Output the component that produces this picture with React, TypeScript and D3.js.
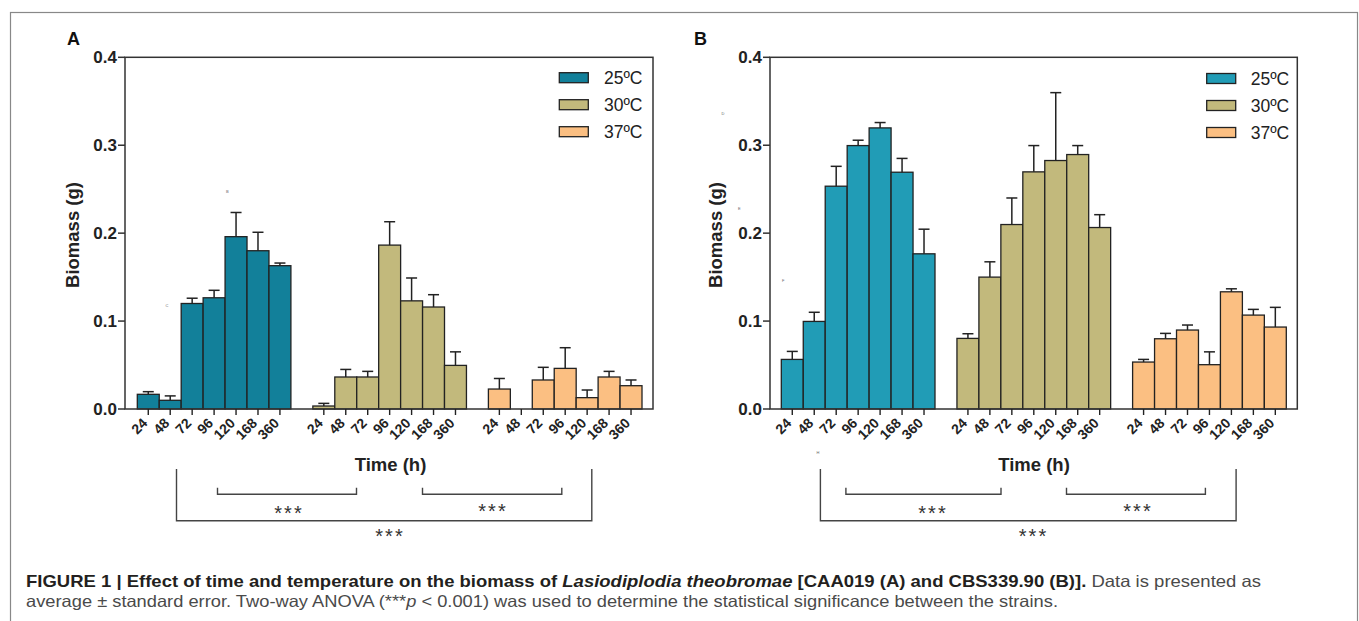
import React from "react";
import * as d3 from "d3";

// ---------- data ----------
const timeLabels = ["24", "48", "72", "96", "120", "168", "360"];
const tempLabels = ["25ºC", "30ºC", "37ºC"];
const yTicks = [0, 0.1, 0.2, 0.3, 0.4];

// Panel A (CAA019): means and standard errors
const meanA25 = [0.0167, 0.0099, 0.12, 0.1265, 0.196, 0.18, 0.163];
const seA25 = [0.003, 0.005, 0.006, 0.0085, 0.0275, 0.021, 0.003];
const meanA30 = [0.0034, 0.0364, 0.0364, 0.1864, 0.123, 0.116, 0.0496];
const seA30 = [0.003, 0.0086, 0.0064, 0.0266, 0.026, 0.014, 0.0154];
const meanA37 = [0.0227, 0, 0.033, 0.0462, 0.0129, 0.0364, 0.0265];
const seA37 = [0.012, 0, 0.0144, 0.0235, 0.0087, 0.0064, 0.0065];

// Panel B (CBS339.90)
const meanB25 = [0.0564, 0.0996, 0.2534, 0.2996, 0.3197, 0.2693, 0.1765];
const seB25 = [0.0091, 0.0104, 0.0226, 0.0061, 0.0061, 0.0157, 0.028];
const meanB30 = [0.0803, 0.15, 0.2098, 0.2697, 0.2826, 0.2894, 0.2064];
const seB30 = [0.0053, 0.0174, 0.0302, 0.0299, 0.0772, 0.0102, 0.0146];
const meanB37 = [0.0534, 0.0799, 0.0898, 0.0504, 0.1333, 0.1068, 0.0932];
const seB37 = [0.003, 0.0061, 0.0057, 0.0146, 0.0034, 0.0065, 0.0224];

const colorsA = ["#12809a", "#c2b97c", "#fbbf82"];
const colorsB = ["#219cb6", "#c2b97c", "#fbbf82"];

const FONT = "'Liberation Sans', Arial, Helvetica, sans-serif";
const INK = "#222";

type PanelCfg = {
  letter: string;
  letterX: number;
  left: number;
  right: number;
  bandL: number;
  bandR: number;
  means: number[][];
  ses: number[][];
  colors: string[];
  legSwX: number;
  legTxX: number;
  legY0: number;
  yLabelX: number;
  bigBracket: [number, number];
  small1: [number, number];
  small2: [number, number];
  starsSmall1: number;
  starsSmall2: number;
  starsBig: number;
  timeX: number;
  marks: { t: string; x: number; y: number }[];
};

const TOP = 57.3;
const BOTTOM = 409;

function Panel({ c }: { c: PanelCfg }) {
  const y = d3.scaleLinear().domain([0, 0.4]).range([BOTTOM, TOP]);
  const x = d3
    .scaleBand<number>()
    .domain(d3.range(23))
    .range([c.bandL, c.bandR])
    .padding(0);
  const bw = x.bandwidth();
  const fmt = d3.format(".1f");

  const bars: React.ReactNode[] = [];
  const errs: React.ReactNode[] = [];
  const ticks: React.ReactNode[] = [];
  c.means.forEach((series, g) => {
    series.forEach((m, t) => {
      const idx = g * 8 + t;
      const x0 = x(idx)!;
      const cx = x0 + bw / 2;
      const se = c.ses[g][t];
      if (m > 0) {
        bars.push(
          <rect
            key={`b${g}-${t}`}
            x={x0}
            y={y(m)}
            width={bw}
            height={y(0) - y(m)}
            fill={c.colors[g]}
            stroke={INK}
            strokeWidth={1.3}
          />
        );
      }
      if (se > 0) {
        errs.push(
          <g key={`e${g}-${t}`} stroke={INK} strokeWidth={1.5}>
            <line x1={cx} x2={cx} y1={y(m)} y2={y(m + se)} />
            <line x1={cx - 5.5} x2={cx + 5.5} y1={y(m + se)} y2={y(m + se)} />
          </g>
        );
      }
      ticks.push(
        <g key={`t${g}-${t}`}>
          <line x1={cx} x2={cx} y1={BOTTOM} y2={BOTTOM + 6} stroke={INK} strokeWidth={1.4} />
          <text
            transform={`translate(${cx},${BOTTOM + 15}) rotate(-45)`}
            textAnchor="end"
            fontFamily={FONT}
            fontWeight="bold"
            fontSize={14}
            fill={INK}
          >
            {timeLabels[t]}
          </text>
        </g>
      );
    });
  });

  const bracketStroke = "#444";
  const stars = (cx: number, cy: number, key: string) => (
    <text
      key={key}
      x={cx + 1}
      y={cy}
      textAnchor="middle"
      fontFamily={FONT}
      fontSize={20}
      letterSpacing={2}
      fill="#333"
    >
      ***
    </text>
  );

  return (
    <g>
      <text x={c.letterX} y={45} fontFamily={FONT} fontWeight="bold" fontSize={18} fill="#111">
        {c.letter}
      </text>
      {c.marks.map((mk, i) => (
        <text key={`m${i}`} x={mk.x} y={mk.y} fontFamily={FONT} fontSize={4} fill="#666">
          {mk.t}
        </text>
      ))}
      {bars}
      {errs}
      {/* frame box */}
      <rect
        x={c.left}
        y={TOP}
        width={c.right - c.left}
        height={BOTTOM - TOP}
        fill="none"
        stroke="#333"
        strokeWidth={1.5}
      />
      {yTicks.map((v) => (
        <g key={`y${v}`}>
          <line x1={c.left - 7} x2={c.left} y1={y(v)} y2={y(v)} stroke="#333" strokeWidth={1.5} />
          <text
            x={c.left - 8}
            y={y(v)}
            dy="0.36em"
            textAnchor="end"
            fontFamily={FONT}
            fontWeight="bold"
            fontSize={17}
            fill={INK}
          >
            {fmt(v)}
          </text>
        </g>
      ))}
      {ticks}
      <text
        transform={`translate(${c.yLabelX},235) rotate(-90)`}
        textAnchor="middle"
        fontFamily={FONT}
        fontWeight="bold"
        fontSize={18.5}
        fill={INK}
      >
        Biomass (g)
      </text>
      <text
        x={c.timeX}
        y={471}
        textAnchor="middle"
        fontFamily={FONT}
        fontWeight="bold"
        fontSize={18.5}
        fill={INK}
      >
        Time (h)
      </text>
      {/* legend */}
      {tempLabels.map((lab, i) => (
        <g key={`l${i}`}>
          <rect
            x={c.legSwX}
            y={c.legY0 + i * 27}
            width={29}
            height={10}
            fill={c.colors[i]}
            stroke={INK}
            strokeWidth={1.3}
          />
          <text
            x={c.legTxX}
            y={c.legY0 + i * 27 + 11.5}
            fontFamily={FONT}
            fontSize={17.5}
            fill={INK}
          >
            {lab}
          </text>
        </g>
      ))}
      {/* significance brackets */}
      <g stroke={bracketStroke} strokeWidth={1.4} fill="none">
        <path
          d={`M${c.bigBracket[0]},469 V520.7 H${c.bigBracket[1]} V469`}
        />
        <path d={`M${c.small1[0]},487.7 V494.3 H${c.small1[1]} V487.7`} />
        <path d={`M${c.small2[0]},487.7 V494.3 H${c.small2[1]} V487.7`} />
      </g>
      {stars(c.starsSmall1, 520, "s1")}
      {stars(c.starsSmall2, 518, "s2")}
      {stars(c.starsBig, 543, "s3")}
    </g>
  );
}

const panelA: PanelCfg = {
  letter: "A",
  letterX: 67,
  left: 125,
  right: 653,
  bandL: 137.3,
  bandR: 642,
  means: [meanA25, meanA30, meanA37],
  ses: [seA25, seA30, seA37],
  colors: colorsA,
  legSwX: 559.3,
  legTxX: 604,
  legY0: 72.7,
  yLabelX: 79,
  bigBracket: [176.5, 591.8],
  small1: [217.5, 356.5],
  small2: [422.5, 561.8],
  starsSmall1: 288,
  starsSmall2: 492,
  starsBig: 389,
  timeX: 390.5,
  marks: [
    { t: "B", x: 226, y: 193 },
    { t: "C", x: 165.5, y: 307 },
  ],
};

const panelB: PanelCfg = {
  letter: "B",
  letterX: 694,
  left: 770,
  right: 1297.3,
  bandL: 781.3,
  bandR: 1286.3,
  means: [meanB25, meanB30, meanB37],
  ses: [seB25, seB30, seB37],
  colors: colorsB,
  legSwX: 1206.7,
  legTxX: 1250.7,
  legY0: 73.5,
  yLabelX: 722,
  bigBracket: [820.4, 1236.1],
  small1: [845.9, 1001],
  small2: [1066.5, 1205.4],
  starsSmall1: 932,
  starsSmall2: 1137,
  starsBig: 1032.5,
  timeX: 1034,
  marks: [
    { t: "D", x: 721.5, y: 115 },
    { t: "E", x: 738, y: 209.5 },
    { t: "F", x: 782, y: 282 },
    { t: "G", x: 794, y: 373.5 },
    { t: "H", x: 816.5, y: 453.5 },
  ],
};

export default function App() {
  return (
    <svg
      width={1359}
      height={621}
      style={{ position: "absolute", left: 0, top: 0, background: "#fff" }}
    >
      <rect x={0} y={0} width={1359} height={621} fill="#fff" />
      <rect
        x={10.5}
        y={12.5}
        width={1347}
        height={700}
        fill="none"
        stroke="#888"
        strokeWidth={1.2}
      />
      <Panel c={panelA} />
      <Panel c={panelB} />
      {/* caption */}
      <text
        x={26}
        y={587}
        fontFamily={FONT}
        fontSize={16.5}
        textLength={1235}
        lengthAdjust="spacingAndGlyphs"
      >
        <tspan fontWeight="bold" fill="#231f20">
          FIGURE 1 | Effect of time and temperature on the biomass of{" "}
        </tspan>
        <tspan fontWeight="bold" fontStyle="italic" fill="#231f20">
          Lasiodiplodia theobromae
        </tspan>
        <tspan fontWeight="bold" fill="#231f20">
          {" "}[CAA019 (A) and CBS339.90 (B)].
        </tspan>
        <tspan fill="#4a4a4a"> Data is presented as</tspan>
      </text>
      <text
        x={26}
        y={607}
        fontFamily={FONT}
        fontSize={16.5}
        fill="#4a4a4a"
        textLength={1032}
        lengthAdjust="spacingAndGlyphs"
      >
        <tspan>average ± standard error. Two-way ANOVA (***</tspan>
        <tspan fontStyle="italic">p</tspan>
        <tspan> {"<"} 0.001) was used to determine the statistical significance between the strains.</tspan>
      </text>
    </svg>
  );
}
